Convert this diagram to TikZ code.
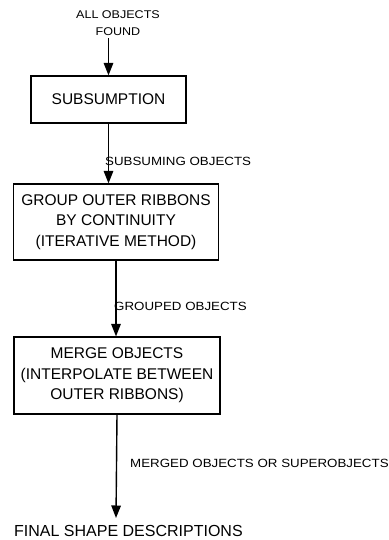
\documentclass[tikz,border=0pt]{standalone}
\usepackage{fontspec}
\setmainfont{Liberation Sans}
\newfontfamily\lblfont[FakeStretch=1.12]{Liberation Sans}
\usetikzlibrary{arrows.meta}
\begin{document}
\begin{tikzpicture}[x=1pt,y=-1pt,
  stagebox/.style={draw,line width=1.1pt,inner sep=0pt,align=center,
    font=\fontsize{15.5}{20.5}\selectfont},
  flow/.style={line width=1.4pt,-{Triangle[width=9.5pt,length=12.5pt]}},
  edgelabel/.style={font=\lblfont\fontsize{11.9}{14}\selectfont,inner sep=0pt},
  termlabel/.style={inner sep=0pt,align=center}]
\useasboundingbox (0,0) rectangle (388,540);

% input label
\node[edgelabel,align=center,font=\lblfont\fontsize{11.2}{17}\selectfont] (inp) at (118,23.5) {ALL OBJECTS\\FOUND};

% processing stages
\node[stagebox,minimum width=155pt,minimum height=47pt] (sub) at (108.5,99.5) {SUBSUMPTION};
\node[stagebox,minimum width=205pt,minimum height=76pt] (grp) at (116,222)
  {GROUP OUTER RIBBONS\\BY CONTINUITY\\(ITERATIVE METHOD)};
\node[stagebox,minimum width=206pt,minimum height=77pt] (mrg) at (117,375.5)
  {MERGE OBJECTS\\(INTERPOLATE BETWEEN\\OUTER RIBBONS)};

% output
\coordinate (outend) at (116,518);
\node[termlabel,anchor=west,font=\fontsize{16}{18}\selectfont] (fin) at (14,531) {FINAL SHAPE DESCRIPTIONS};

% connectors
\draw[flow] (sub.north |- inp.south) ++(0,2) -- (sub.north);
\draw[flow] (sub.south) -- (sub.south |- grp.north);
\draw[flow] (grp.south) -- (grp.south |- mrg.north);
\draw[flow] (mrg.south) -- (outend);

% connector labels
\node[edgelabel,anchor=west] (l1) at (105,161) {SUBSUMING OBJECTS};
\node[edgelabel,anchor=west] (l2) at (114,306) {GROUPED OBJECTS};
\node[edgelabel,anchor=west] (l3) at (130,463) {MERGED OBJECTS OR SUPEROBJECTS};
\end{tikzpicture}
\end{document}
